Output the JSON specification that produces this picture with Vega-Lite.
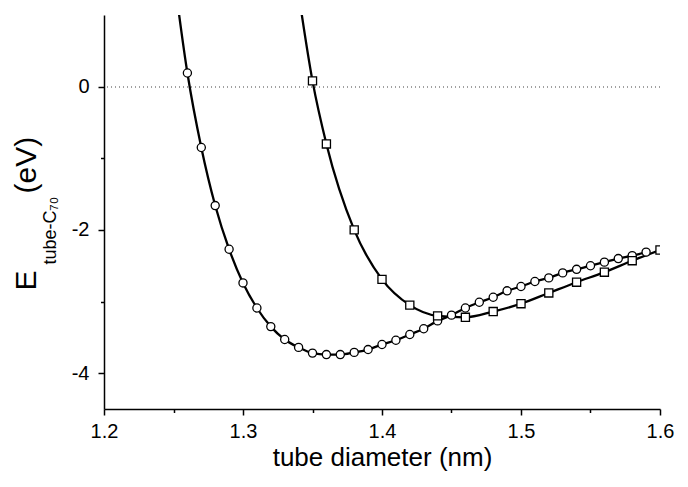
{
  "$schema": "https://vega.github.io/schema/vega-lite/v6.json",
  "width": 556,
  "height": 394,
  "autosize": {"type": "none"},
  "padding": {"left": 104, "top": 15, "right": 28, "bottom": 78},
  "background": "white",
  "config": {
    "view": {"stroke": null},
    "font": "Liberation Sans",
    "axis": {
      "labelFont": "Liberation Sans",
      "titleFont": "Liberation Sans",
      "labelColor": "#000",
      "titleColor": "#000",
      "domainColor": "#000",
      "tickColor": "#000",
      "grid": false,
      "titleFontWeight": "normal"
    }
  },
  "data": {
    "values": [
      {"d": 1.25, "e": 1.6, "s": "circle"},
      {"d": 1.26, "e": 0.19, "s": "circle"},
      {"d": 1.27, "e": -0.85, "s": "circle"},
      {"d": 1.28, "e": -1.66, "s": "circle"},
      {"d": 1.29, "e": -2.27, "s": "circle"},
      {"d": 1.30, "e": -2.74, "s": "circle"},
      {"d": 1.31, "e": -3.09, "s": "circle"},
      {"d": 1.32, "e": -3.35, "s": "circle"},
      {"d": 1.33, "e": -3.53, "s": "circle"},
      {"d": 1.34, "e": -3.64, "s": "circle"},
      {"d": 1.35, "e": -3.72, "s": "circle"},
      {"d": 1.36, "e": -3.74, "s": "circle"},
      {"d": 1.37, "e": -3.74, "s": "circle"},
      {"d": 1.38, "e": -3.71, "s": "circle"},
      {"d": 1.39, "e": -3.67, "s": "circle"},
      {"d": 1.40, "e": -3.60, "s": "circle"},
      {"d": 1.41, "e": -3.54, "s": "circle"},
      {"d": 1.42, "e": -3.46, "s": "circle"},
      {"d": 1.43, "e": -3.38, "s": "circle"},
      {"d": 1.44, "e": -3.27, "s": "circle"},
      {"d": 1.45, "e": -3.19, "s": "circle"},
      {"d": 1.46, "e": -3.09, "s": "circle"},
      {"d": 1.47, "e": -3.01, "s": "circle"},
      {"d": 1.48, "e": -2.94, "s": "circle"},
      {"d": 1.49, "e": -2.85, "s": "circle"},
      {"d": 1.50, "e": -2.79, "s": "circle"},
      {"d": 1.51, "e": -2.72, "s": "circle"},
      {"d": 1.52, "e": -2.67, "s": "circle"},
      {"d": 1.53, "e": -2.60, "s": "circle"},
      {"d": 1.54, "e": -2.55, "s": "circle"},
      {"d": 1.55, "e": -2.50, "s": "circle"},
      {"d": 1.56, "e": -2.45, "s": "circle"},
      {"d": 1.57, "e": -2.40, "s": "circle"},
      {"d": 1.58, "e": -2.36, "s": "circle"},
      {"d": 1.59, "e": -2.31, "s": "circle"},
      {"d": 1.34, "e": 1.3, "s": "square"},
      {"d": 1.35, "e": 0.08, "s": "square"},
      {"d": 1.36, "e": -0.80, "s": "square"},
      {"d": 1.38, "e": -2.00, "s": "square"},
      {"d": 1.40, "e": -2.69, "s": "square"},
      {"d": 1.42, "e": -3.05, "s": "square"},
      {"d": 1.44, "e": -3.20, "s": "square"},
      {"d": 1.46, "e": -3.22, "s": "square"},
      {"d": 1.48, "e": -3.14, "s": "square"},
      {"d": 1.50, "e": -3.03, "s": "square"},
      {"d": 1.52, "e": -2.88, "s": "square"},
      {"d": 1.54, "e": -2.73, "s": "square"},
      {"d": 1.56, "e": -2.59, "s": "square"},
      {"d": 1.58, "e": -2.43, "s": "square"},
      {"d": 1.60, "e": -2.28, "s": "square"}
    ]
  },
  "resolve": {"scale": {"y": "independent", "x": "independent"}},
  "layer": [
    {
      "mark": {"type": "rule", "color": "#a0a0a0", "strokeWidth": 1, "strokeDash": [1, 3]},
      "encoding": {
        "y": {
          "datum": 0,
          "type": "quantitative",
          "scale": {"domain": [-4.5, 1], "nice": false, "zero": false},
          "axis": {
            "orient": "left",
            "values": [-4, -2, 0],
            "labelExpr": "datum.value < 0 ? '-' + abs(datum.value) : '' + datum.value",
            "labelFontSize": 20,
            "labelPadding": 9,
            "tickSize": 6,
            "tickWidth": 1.5,
            "domainWidth": 1.5,
            "title": "E",
            "titleFontSize": 30,
            "titleAngle": -90,
            "titleAlign": "left",
            "titleBaseline": "alphabetic",
            "titleX": -69,
            "titleY": 275
          }
        }
      }
    },
    {
      "mark": {"type": "line", "color": "#000", "strokeWidth": 2.3, "interpolate": "monotone", "clip": true},
      "encoding": {
        "x": {
          "field": "d",
          "type": "quantitative",
          "scale": {"domain": [1.2, 1.6], "nice": false, "zero": false},
          "axis": {
            "orient": "bottom",
            "values": [1.2, 1.3, 1.4, 1.5, 1.6],
            "format": ".1f",
            "labelFontSize": 20,
            "labelPadding": 6,
            "tickSize": 6,
            "tickWidth": 1.5,
            "domainWidth": 1.5,
            "labelFlush": false,
            "labelOverlap": false,
            "title": "tube diameter (nm)",
            "titleFontSize": 26,
            "titleBaseline": "alphabetic",
            "titleY": 56
          }
        },
        "y": {
          "field": "e",
          "type": "quantitative",
          "scale": {"domain": [-4.5, 1], "nice": false, "zero": false},
          "axis": {
            "orient": "left",
            "values": [-3, -1],
            "labels": false,
            "domain": false,
            "tickSize": 3.5,
            "tickWidth": 1.5,
            "title": "(eV)",
            "titleFontSize": 30,
            "titleAngle": -90,
            "titleAlign": "left",
            "titleBaseline": "alphabetic",
            "titleX": -69,
            "titleY": 178
          }
        },
        "detail": {"field": "s"}
      }
    },
    {
      "mark": {"type": "point", "filled": false, "fill": "white", "fillOpacity": 1, "stroke": "#000", "strokeWidth": 1.3, "size": 66, "opacity": 1, "clip": true},
      "encoding": {
        "x": {
          "field": "d",
          "type": "quantitative",
          "scale": {"domain": [1.2, 1.6], "nice": false, "zero": false},
          "axis": {
            "orient": "bottom",
            "values": [1.25, 1.35, 1.45, 1.55],
            "labels": false,
            "domain": false,
            "tickSize": 3.5,
            "tickWidth": 1.5,
            "title": null
          }
        },
        "y": {
          "field": "e",
          "type": "quantitative",
          "scale": {"domain": [-4.5, 1], "nice": false, "zero": false},
          "axis": {
            "orient": "left",
            "values": [],
            "labels": false,
            "ticks": false,
            "domain": false,
            "title": "tube-C₇₀",
            "titleFontSize": 18,
            "titleAngle": -90,
            "titleAlign": "left",
            "titleBaseline": "alphabetic",
            "titleX": -49,
            "titleY": 249
          }
        },
        "shape": {
          "field": "s",
          "type": "nominal",
          "scale": {"domain": ["circle", "square"], "range": ["circle", "square"]},
          "legend": null
        }
      }
    }
  ]
}
